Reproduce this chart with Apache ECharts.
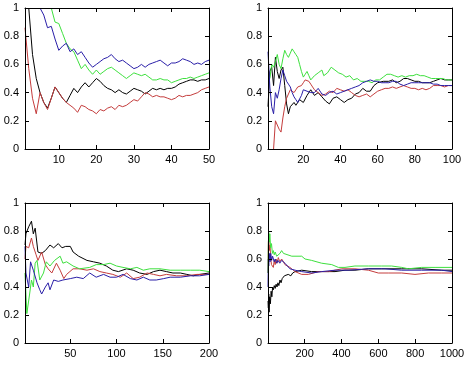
<!DOCTYPE html>
<html><head><meta charset="utf-8">
<script src="https://cdn.jsdelivr.net/npm/echarts@6/dist/echarts.min.js"></script>
<style>html,body{margin:0;padding:0;background:#fff}#c{width:471px;height:367px}</style>
</head><body><div id="c"></div>
<script>
// ---------- Panel 1 (n = 1..50), [n, value]; points above the top edge are not shown ----------
const p1Black = [[2,1],[3,0.67],[4,0.5],[5,0.4],[6,0.33],[7,0.29],[8,0.36],[9,0.44],[10,0.40],[11,0.36],[12,0.33],[13,0.38],[14,0.43],[15,0.40],[16,0.44],[17,0.47],[18,0.44],[19,0.47],[20,0.50],[21,0.48],[22,0.45],[23,0.43],[24,0.42],[25,0.40],[26,0.42],[27,0.40],[28,0.39],[29,0.41],[30,0.43],[31,0.42],[32,0.41],[33,0.39],[34,0.41],[35,0.43],[36,0.42],[37,0.43],[38,0.42],[39,0.43],[40,0.43],[41,0.44],[42,0.46],[43,0.47],[44,0.48],[45,0.49],[46,0.49],[47,0.48],[48,0.49],[49,0.49],[50,0.50]];
const p1Red = [[1,0.86],[2,0.57],[3,0.36],[4,0.25],[5,0.40],[6,0.33],[7,0.28],[8,0.36],[9,0.44],[10,0.40],[11,0.36],[12,0.33],[13,0.31],[14,0.29],[15,0.26],[16,0.31],[17,0.30],[18,0.28],[19,0.27],[20,0.25],[21,0.28],[22,0.27],[23,0.29],[24,0.30],[25,0.28],[26,0.31],[27,0.30],[28,0.31],[29,0.33],[30,0.35],[31,0.34],[32,0.37],[33,0.40],[34,0.39],[35,0.37],[36,0.38],[37,0.37],[38,0.37],[39,0.36],[40,0.35],[41,0.36],[42,0.38],[43,0.37],[44,0.38],[45,0.38],[46,0.39],[47,0.40],[48,0.42],[49,0.43],[50,0.44]];
const p1Green = [[8,1],[9,0.90],[10,0.89],[11,0.82],[12,0.75],[13,0.71],[14,0.69],[15,0.63],[16,0.57],[17,0.60],[18,0.56],[19,0.53],[20,0.56],[21,0.53],[22,0.55],[23,0.57],[24,0.58],[25,0.56],[26,0.54],[27,0.52],[28,0.50],[29,0.52],[30,0.54],[31,0.53],[32,0.52],[33,0.53],[34,0.51],[35,0.49],[36,0.49],[37,0.50],[38,0.49],[39,0.49],[40,0.47],[41,0.48],[42,0.49],[43,0.50],[44,0.50],[45,0.51],[46,0.50],[47,0.51],[48,0.52],[49,0.53],[50,0.54]];
const p1Blue = [[5,1],[6,0.95],[7,0.86],[8,0.87],[9,0.78],[10,0.70],[11,0.73],[12,0.75],[13,0.69],[14,0.71],[15,0.67],[16,0.69],[17,0.65],[18,0.61],[19,0.58],[20,0.60],[21,0.62],[22,0.64],[23,0.65],[24,0.67],[25,0.64],[26,0.62],[27,0.63],[28,0.61],[29,0.59],[30,0.57],[31,0.58],[32,0.60],[33,0.58],[34,0.60],[35,0.61],[36,0.62],[37,0.63],[38,0.61],[39,0.59],[40,0.61],[41,0.61],[42,0.62],[43,0.64],[44,0.63],[45,0.62],[46,0.60],[47,0.61],[48,0.60],[49,0.62],[50,0.63]];

// ---------- Panel 2 (n = 1..100) ----------
const p2Black = [[1,0.30],[2,0.55],[3,0.58],[4,0.45],[5,0.65],[6,0.55],[7,0.50],[8,0.56],[9,0.58],[10,0.45],[11,0.32],[12,0.25],[13,0.30],[14,0.29],[15,0.33],[16,0.31],[17,0.30],[18,0.35],[20,0.33],[22,0.38],[24,0.42],[26,0.38],[28,0.40],[30,0.37],[32,0.34],[34,0.32],[36,0.36],[38,0.37],[40,0.35],[42,0.33],[44,0.35],[46,0.36],[48,0.39],[50,0.40],[52,0.43],[54,0.41],[56,0.41],[58,0.45],[60,0.47],[63,0.48],[66,0.48],[68,0.49],[70,0.47],[72,0.48],[74,0.50],[76,0.50],[78,0.49],[80,0.48],[82,0.48],[84,0.47],[86,0.47],[88,0.47],[90,0.48],[92,0.49],[94,0.50],[96,0.49],[98,0.49],[100,0.49]];
const p2Red = [[4,0],[5,0.2],[6,0.17],[7,0.14],[8,0.12],[9,0.22],[10,0.30],[11,0.36],[12,0.39],[13,0.42],[14,0.43],[15,0.40],[16,0.42],[17,0.44],[18,0.43],[19,0.45],[20,0.47],[21,0.49],[22,0.50],[23,0.48],[24,0.46],[25,0.44],[26,0.42],[28,0.40],[30,0.38],[32,0.39],[34,0.41],[36,0.40],[38,0.43],[40,0.42],[42,0.41],[44,0.42],[46,0.40],[48,0.38],[50,0.37],[52,0.38],[54,0.39],[56,0.37],[58,0.39],[60,0.41],[62,0.42],[64,0.43],[66,0.43],[68,0.44],[70,0.43],[72,0.44],[74,0.45],[76,0.44],[78,0.43],[80,0.43],[82,0.42],[84,0.43],[86,0.42],[88,0.43],[90,0.45],[92,0.45],[94,0.45],[96,0.44],[98,0.45],[100,0.45]];
const p2Green = [[2,0.50],[3,0.60],[4,0.58],[5,0.62],[6,0.67],[7,0.60],[8,0.57],[9,0.64],[10,0.70],[11,0.67],[12,0.65],[13,0.68],[14,0.71],[15,0.69],[16,0.67],[17,0.65],[18,0.60],[19,0.55],[20,0.51],[21,0.53],[22,0.55],[23,0.52],[24,0.49],[25,0.50],[26,0.52],[28,0.54],[30,0.56],[31,0.52],[33,0.54],[35,0.58],[37,0.56],[39,0.54],[41,0.53],[43,0.51],[45,0.52],[47,0.49],[49,0.50],[51,0.48],[53,0.48],[55,0.48],[57,0.47],[59,0.49],[61,0.49],[63,0.51],[65,0.53],[67,0.53],[69,0.52],[71,0.51],[73,0.52],[75,0.51],[77,0.52],[79,0.52],[81,0.53],[83,0.52],[85,0.52],[87,0.51],[89,0.50],[91,0.50],[93,0.50],[95,0.50],[97,0.49],[100,0.49]];
const p2Blue = [[1,0.69],[2,0.44],[3,0.30],[4,0.25],[5,0.40],[6,0.36],[7,0.42],[8,0.50],[9,0.56],[10,0.52],[11,0.48],[12,0.46],[13,0.44],[14,0.40],[15,0.37],[16,0.35],[17,0.33],[18,0.33],[19,0.38],[20,0.42],[21,0.42],[22,0.41],[24,0.40],[26,0.40],[28,0.43],[30,0.39],[32,0.38],[34,0.40],[36,0.41],[38,0.39],[40,0.40],[42,0.41],[44,0.42],[46,0.43],[48,0.44],[50,0.45],[52,0.47],[54,0.48],[56,0.49],[58,0.48],[60,0.48],[62,0.47],[64,0.47],[66,0.47],[68,0.48],[70,0.48],[72,0.46],[74,0.45],[76,0.46],[78,0.47],[80,0.47],[82,0.47],[84,0.47],[86,0.47],[88,0.47],[90,0.46],[92,0.46],[94,0.45],[96,0.45],[98,0.45],[100,0.45]];

// ---------- Panel 3 (n = 1..200) ----------
const p3Black = [[1,0.70],[2,0.78],[5,0.83],[8,0.87],[10,0.78],[12,0.82],[15,0.65],[19,0.64],[23,0.66],[28,0.70],[32,0.68],[37,0.71],[41,0.68],[45,0.69],[50,0.69],[53,0.65],[59,0.62],[68,0.59],[75,0.58],[82,0.57],[89,0.55],[96,0.52],[102,0.51],[111,0.53],[118,0.52],[125,0.50],[133,0.49],[140,0.51],[147,0.52],[154,0.51],[161,0.50],[169,0.50],[176,0.49],[183,0.48],[190,0.49],[200,0.50]];
const p3Red = [[1,0.60],[2,0.69],[5,0.68],[8,0.75],[10,0.69],[13,0.63],[15,0.59],[19,0.65],[23,0.56],[26,0.53],[30,0.50],[35,0.57],[39,0.52],[43,0.46],[46,0.49],[53,0.53],[60,0.53],[68,0.52],[75,0.53],[82,0.51],[89,0.50],[96,0.49],[104,0.47],[111,0.50],[118,0.46],[125,0.47],[133,0.50],[140,0.49],[147,0.48],[154,0.49],[165,0.48],[176,0.48],[187,0.49],[200,0.49]];
const p3Green = [[1,0.50],[3,0.21],[5,0.20],[6,0.35],[8,0.45],[10,0.40],[12,0.57],[14,0.59],[17,0.45],[21,0.50],[24,0.58],[28,0.55],[33,0.59],[39,0.62],[42,0.57],[46,0.58],[53,0.55],[60,0.53],[71,0.54],[78,0.56],[86,0.56],[93,0.57],[100,0.55],[107,0.54],[115,0.53],[122,0.54],[129,0.52],[136,0.53],[147,0.53],[158,0.52],[169,0.52],[180,0.52],[190,0.52],[200,0.51]];
const p3Blue = [[1,0.69],[2,0.50],[5,0.40],[7,0.58],[10,0.52],[14,0.43],[17,0.38],[19,0.35],[23,0.40],[26,0.43],[28,0.38],[32,0.45],[37,0.44],[42,0.45],[50,0.46],[57,0.47],[64,0.46],[71,0.50],[78,0.47],[86,0.49],[93,0.47],[100,0.47],[107,0.49],[115,0.46],[122,0.45],[129,0.47],[136,0.45],[143,0.45],[151,0.46],[158,0.47],[169,0.47],[180,0.48],[190,0.48],[200,0.49]];

// ---------- Panel 4 (n = 1..1000) ----------
const p4Black = [[1,0.30],[3,0.25],[5,0.35],[7,0.22],[10,0.33],[14,0.28],[18,0.37],[22,0.33],[26,0.40],[30,0.38],[35,0.41],[40,0.39],[45,0.42],[50,0.40],[55,0.43],[60,0.41],[66,0.45],[72,0.43],[78,0.46],[84,0.45],[90,0.48],[100,0.47],[111,0.49],[125,0.48],[135,0.50],[148,0.51],[184,0.52],[238,0.51],[292,0.51],[365,0.51],[419,0.52],[473,0.52],[546,0.53],[618,0.53],[727,0.53],[835,0.53],[944,0.52],[1000,0.52]];
const p4Red = [[1,0.50],[3,0.72],[5,0.76],[8,0.66],[12,0.70],[16,0.60],[20,0.56],[25,0.57],[30,0.54],[35,0.59],[40,0.56],[45,0.60],[50,0.57],[57,0.61],[65,0.58],[75,0.60],[85,0.58],[93,0.56],[120,0.54],[148,0.51],[184,0.49],[220,0.49],[274,0.51],[329,0.51],[401,0.53],[473,0.53],[546,0.52],[600,0.50],[654,0.50],[727,0.50],[799,0.49],[872,0.50],[944,0.50],[1000,0.50]];
const p4Green = [[1,0.50],[3,0.70],[5,0.79],[8,0.72],[11,0.78],[15,0.68],[20,0.71],[25,0.64],[30,0.66],[35,0.63],[40,0.65],[48,0.62],[55,0.63],[66,0.64],[75,0.66],[85,0.64],[93,0.63],[130,0.62],[184,0.62],[202,0.60],[238,0.59],[292,0.57],[347,0.56],[383,0.54],[419,0.54],[473,0.55],[546,0.55],[618,0.55],[672,0.55],[727,0.54],[763,0.53],[835,0.54],[908,0.54],[962,0.54],[1000,0.54]];
const p4Blue = [[1,0.40],[3,0.60],[5,0.55],[8,0.64],[12,0.58],[16,0.64],[21,0.59],[26,0.62],[30,0.63],[35,0.58],[40,0.60],[48,0.57],[55,0.59],[65,0.57],[75,0.59],[85,0.58],[93,0.57],[120,0.53],[148,0.52],[184,0.51],[238,0.50],[292,0.51],[365,0.52],[437,0.52],[546,0.53],[636,0.53],[727,0.52],[835,0.52],[944,0.52],[1000,0.51]];

const xMaxes = [50, 100, 200, 1000];
const xTicks = [[10,20,30,40,50],[20,40,60,80,100],[50,100,150,200],[200,400,600,800,1000]];
const colors = ['#000000', '#c43c3c', '#3ee03e', '#2a1fa8'];

const panels = [
  [p1Black, p1Red, p1Green, p1Blue],
  [p2Black, p2Red, p2Green, p2Blue],
  [p3Black, p3Red, p3Green, p3Blue],
  [p4Black, p4Red, p4Green, p4Blue]
];

const grids = [
  {left:25, top:8, width:184, height:141},
  {left:268, top:8, width:184, height:141},
  {left:25, top:203, width:184, height:140},
  {left:268, top:203, width:184, height:140}
];

const font = {color:'#000', fontSize:11, fontFamily:'Liberation Sans, Arial, sans-serif'};
const fmt = v => String(v);
const xAxis = [], yAxis = [], series = [];
grids.forEach((g,i)=>{
  const base = {type:'value', gridIndex:i, z:5, splitLine:{show:false},
    axisLine:{show:true, onZero:false, lineStyle:{color:'#000', width:1}}};
  const tick = {show:true, inside:true, length:4, lineStyle:{color:'#000'}};
  xAxis.push(Object.assign({}, base, {position:'bottom', min:1, max:xMaxes[i],
    axisTick:Object.assign({customValues:xTicks[i]}, tick),
    axisLabel:Object.assign({show:true, margin:5, customValues:xTicks[i], formatter:fmt}, font)}));
  xAxis.push(Object.assign({}, base, {position:'top', min:1, max:xMaxes[i],
    axisTick:Object.assign({customValues:xTicks[i]}, tick),
    axisLabel:{show:false, customValues:xTicks[i]}}));
  yAxis.push(Object.assign({}, base, {position:'left', min:0, max:1, interval:0.2,
    axisTick:tick, axisLabel:Object.assign({show:true, margin:6, formatter:fmt}, font)}));
  yAxis.push(Object.assign({}, base, {position:'right', min:0, max:1, interval:0.2,
    axisTick:tick, axisLabel:{show:false}}));
  panels[i].forEach((d,k)=>{
    series.push({type:'line', xAxisIndex:2*i, yAxisIndex:2*i, data:d, symbol:'none',
      clip:true, lineStyle:{color:colors[k], width:1}, z:2, silent:true});
  });
});

const chart = echarts.init(document.getElementById('c'), null, {renderer:'canvas'});
chart.setOption({animation:false, backgroundColor:'#fff', grid:grids, xAxis, yAxis, series});
</script></body></html>
